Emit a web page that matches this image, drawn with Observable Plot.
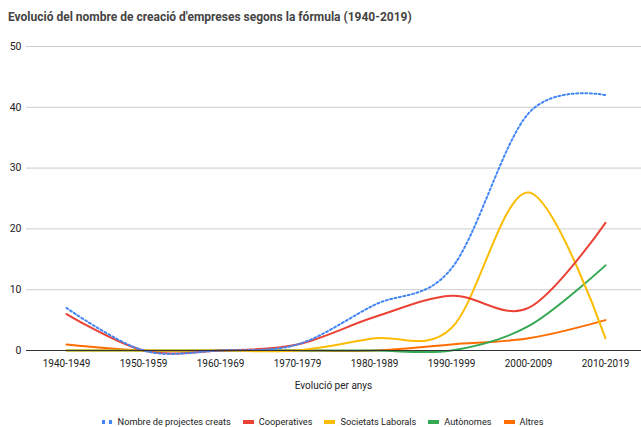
<!DOCTYPE html>
<html><head><meta charset="utf-8">
<script src="https://cdn.jsdelivr.net/npm/d3@7"></script>
<script src="https://cdn.jsdelivr.net/npm/@observablehq/plot@0.6"></script>
<style>
body{margin:0;background:#fff;font-family:Roboto,sans-serif;width:641px;height:427px;overflow:hidden;position:relative}
#title{position:absolute;left:8px;top:10px;font-size:12px;font-weight:bold;color:#444}
#chart{position:absolute;left:0;top:30px}
#xlabel{position:absolute;left:26px;width:615px;top:380px;text-align:center;font-size:10px;color:#222}
#legend{position:absolute;left:0;width:641px;top:416px;display:flex;justify-content:center;gap:12px;font-size:9.2px;color:#222;align-items:center;padding-left:2px}
#legend .it{display:flex;align-items:center;gap:5px}
#legend .sw{width:11px;height:4px}
</style></head><body>
<div id="title">Evolució del nombre de creació d'empreses segons la fórmula (1940-2019)</div>
<div id="chart"></div>
<div id="xlabel">Evolució per anys</div>
<div id="legend"></div>
<script>
const categories = ["1940-1949","1950-1959","1960-1969","1970-1979","1980-1989","1990-1999","2000-2009","2010-2019"];
const seriesNames = ["Nombre de projectes creats","Cooperatives","Societats Laborals","Autònomes","Altres"];
const colors = ["#4285F4","#EA4335","#FBBC04","#34A853","#FF6D01"];
const projectes = [7, 0, 0, 1, 7.5, 13.5, 39, 42];
const cooperatives = [6, 0, 0, 1, 5.5, 9, 7, 21];
const societats = [0, 0, 0, 0, 2, 3.7, 26, 2];
const autonomes = [0, 0, 0, 0, 0, 0, 4, 14];
const altres = [1, 0, 0, 0, 0, 1, 2, 5];
const yTicks = [0, 10, 20, 30, 40, 50];

const all = [projectes, cooperatives, societats, autonomes, altres];
const data = [];
all.forEach((arr, s) => arr.forEach((v, i) => data.push({cat: categories[i], value: v, series: seriesNames[s]})));

const lineOf = (s, extra) => Plot.line(data.filter(d => d.series === seriesNames[s]), {
  x: "cat", y: "value", stroke: colors[s], strokeWidth: 2, curve: "cardinal", tension: 0, ...extra
});

const chart = Plot.plot({
  width: 641, height: 370,
  marginLeft: 26, marginRight: 0, marginTop: 16, marginBottom: 50,
  style: {fontFamily: "Roboto, sans-serif", fontSize: "10px", color: "#222"},
  x: {type: "point", domain: categories, range: [64, 606], padding: 0, label: null},
  y: {domain: [0, 50], ticks: yTicks, label: null},
  marks: [
    Plot.gridY(yTicks.filter(t => t > 0), {stroke: "#ccc", strokeOpacity: 1}),
    Plot.axisY(yTicks, {tickSize: 0, tickPadding: 5, fontSize: 10.5}),
    Plot.axisX({tickSize: 0, tickPadding: 9, fontSize: 10, label: null}),
    lineOf(4), lineOf(3), lineOf(2), lineOf(1),
    lineOf(0, {strokeDasharray: "2,2.5"}),
    Plot.ruleY([0], {stroke: "#333", strokeWidth: 1})
  ]
});
document.getElementById("chart").appendChild(chart);

const leg = document.getElementById("legend");
seriesNames.forEach((n, i) => {
  const it = document.createElement("div"); it.className = "it";
  const sw = document.createElement("div"); sw.className = "sw";
  if (i === 0) sw.style.background = `repeating-linear-gradient(90deg, ${colors[0]} 0 3px, transparent 3px 7px)`;
  else sw.style.background = colors[i];
  const t = document.createElement("span"); t.textContent = n;
  it.appendChild(sw); it.appendChild(t); leg.appendChild(it);
});
</script>
</body></html>
